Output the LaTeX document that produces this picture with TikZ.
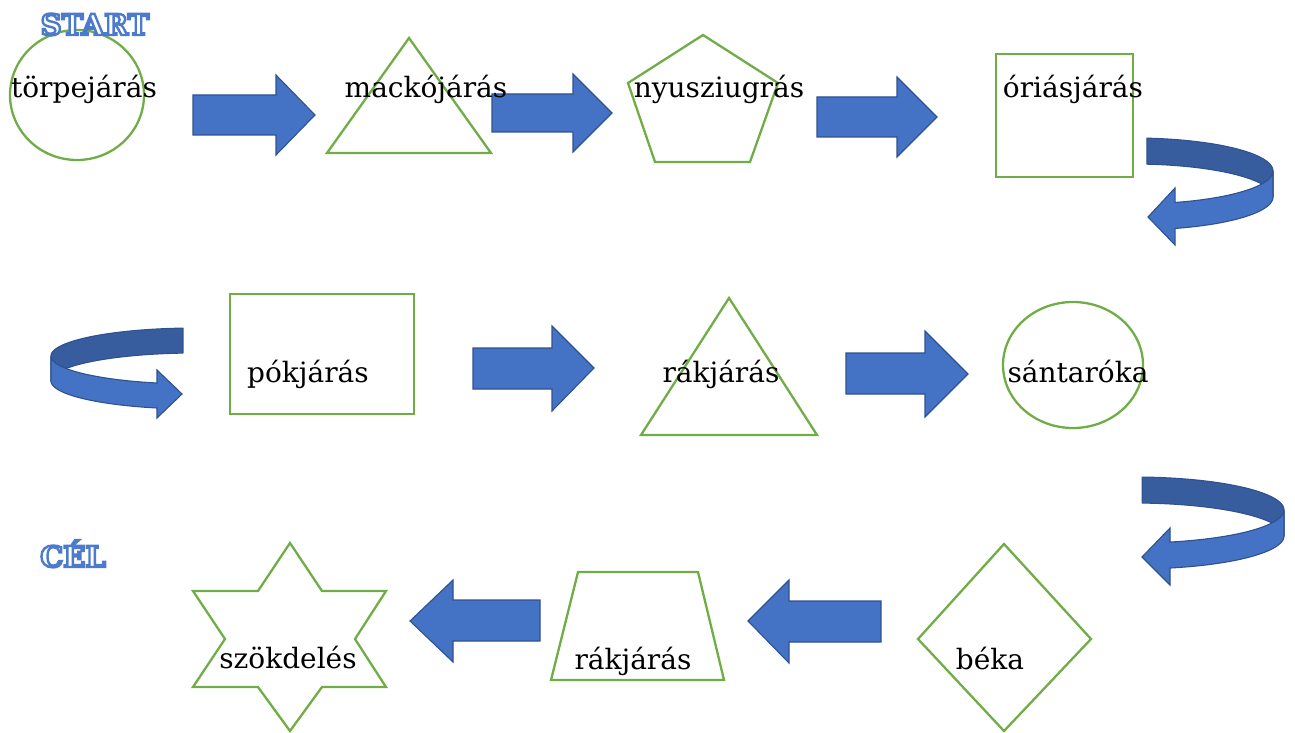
\documentclass[tikz,border=0pt]{standalone}
\usepackage{fontspec}
\setmainfont{DejaVu Serif}
\definecolor{shapegreen}{HTML}{70AD47}
\definecolor{arrowblue}{HTML}{4472C4}
\definecolor{arrowdark}{HTML}{2F528F}
\definecolor{arrowback}{HTML}{375D9F}
\newcommand{\outlinedword}[1]{\special{pdf:literal direct 2 Tr 0.30 0.48 0.80 RG 2.4 w}#1\special{pdf:literal direct 0 Tr}}
\tikzset{
  shapeline/.style={draw=shapegreen, line width=2.3pt, line join=miter},
  blockarrow/.style={fill=arrowblue, draw=arrowdark, line width=1.1pt, line join=miter},
  backband/.style={fill=arrowback, draw=arrowdark, line width=1.1pt, line join=round},
  lbl/.style={font=\fontsize{28}{32}\selectfont, anchor=base, inner sep=0pt},
  marktext/.style={font=\fontsize{29}{32}\selectfont\bfseries, text=white, anchor=base, inner sep=0pt}
}
\begin{document}
\begin{tikzpicture}[x=1pt,y=-1pt]
\useasboundingbox (0,0) rectangle (1295,733);

% ---------- shapes ----------
\draw[shapeline] (77,95) ellipse[x radius=67, y radius=65];
\draw[shapeline] (409,38) -- (491,153) -- (327,153) -- cycle;
\draw[shapeline] (703,35) -- (778,83) -- (750,162) -- (655,162) -- (628,83) -- cycle;
\draw[shapeline] (996,54) rectangle (1133,177);
\draw[shapeline] (230,294) rectangle (414,414);
\draw[shapeline] (729,298) -- (817,435) -- (641,435) -- cycle;
\draw[shapeline] (1073,365) ellipse[x radius=70, y radius=63];
\draw[shapeline] (1004,544) -- (1091,639) -- (1004,731) -- (918,639) -- cycle;
\draw[shapeline] (578,572) -- (698,572) -- (724,680) -- (551,680) -- cycle;
\draw[shapeline] (290,543) -- (322,591) -- (386,591) -- (355,639) -- (386,687) -- (322,687)
  -- (290,731) -- (258,687) -- (193,687) -- (225,639) -- (193,591) -- (258,591) -- cycle;

% ---------- straight block arrows ----------
\filldraw[blockarrow] (193,95) -- (276,95) -- (276,75) -- (315,115) -- (276,155) -- (276,135) -- (193,135) -- cycle;
\filldraw[blockarrow] (492,94) -- (573,94) -- (573,74) -- (612,113) -- (573,152) -- (573,132) -- (492,132) -- cycle;
\filldraw[blockarrow] (817,97) -- (897,97) -- (897,77) -- (937,117) -- (897,157) -- (897,137) -- (817,137) -- cycle;
\filldraw[blockarrow] (473,348) -- (552,348) -- (552,326) -- (594,368) -- (552,411) -- (552,389) -- (473,389) -- cycle;
\filldraw[blockarrow] (846,353) -- (925,353) -- (925,331) -- (968,374) -- (925,417) -- (925,394) -- (846,394) -- cycle;
\filldraw[blockarrow] (881,601) -- (789,601) -- (789,580) -- (748,621) -- (789,663) -- (789,642) -- (881,642) -- cycle;
\filldraw[blockarrow] (540,600) -- (453,600) -- (453,580) -- (410,621) -- (453,662) -- (453,641) -- (540,641) -- cycle;

% ---------- U-turn arrows ----------
% top right
\filldraw[backband] plot[domain=275.7:360, samples=40, variable=\t] ({1133+140*cos(\t)},{171+33*sin(\t)})
  -- plot[domain=360:275.7, samples=40, variable=\t] ({1133+140*cos(\t)},{197+33*sin(\t)}) -- cycle;
\filldraw[blockarrow] plot[domain=0:72.5, samples=40, variable=\t] ({1133+140*cos(\t)},{171+33*sin(\t)})
  -- (1175,188) -- (1148,217) -- (1175,245)
  -- plot[domain=72.5:0, samples=40, variable=\t] ({1133+140*cos(\t)},{197+33*sin(\t)}) -- cycle;

% middle left
\filldraw[backband] plot[domain=265.2:180, samples=40, variable=\t] ({195+144*cos(\t)},{356+28*sin(\t)})
  -- plot[domain=180:265.2, samples=40, variable=\t] ({195+144*cos(\t)},{381+28*sin(\t)}) -- cycle;
\filldraw[blockarrow] plot[domain=180:105.3, samples=40, variable=\t] ({195+144*cos(\t)},{356+28*sin(\t)})
  -- (157,370) -- (182,394) -- (157,418)
  -- plot[domain=105.3:180, samples=40, variable=\t] ({195+144*cos(\t)},{381+28*sin(\t)}) -- cycle;

% bottom right
\filldraw[backband] plot[domain=273.1:360, samples=40, variable=\t] ({1134+150*cos(\t)},{510+33*sin(\t)})
  -- plot[domain=360:273.1, samples=40, variable=\t] ({1134+150*cos(\t)},{536+33*sin(\t)}) -- cycle;
\filldraw[blockarrow] plot[domain=0:76.1, samples=40, variable=\t] ({1134+150*cos(\t)},{510+33*sin(\t)})
  -- (1170,528) -- (1142,557) -- (1170,585)
  -- plot[domain=76.1:0, samples=40, variable=\t] ({1134+150*cos(\t)},{536+33*sin(\t)}) -- cycle;

% ---------- texts ----------
\node[marktext] (start) at (95,35) {\outlinedword{START}};
\node[marktext] (cel) at (73,567) {\outlinedword{CÉL}};

\node[lbl] (torpe) at (84,98) {törpejárás};
\node[lbl] (macko) at (426,98) {mackójárás};
\node[lbl] (nyuszi) at (719,98) {nyusziugrás};
\node[lbl] (orias) at (1073,98) {óriásjárás};
\node[lbl] (pok) at (308,382) {pókjárás};
\node[lbl] (rak1) at (721,382) {rákjárás};
\node[lbl] (santa) at (1078,382) {sántaróka};
\node[lbl] (szok) at (288,668) {szökdelés};
\node[lbl] (rak2) at (633,669) {rákjárás};
\node[lbl] (beka) at (990,669) {béka};
\end{tikzpicture}
\end{document}
